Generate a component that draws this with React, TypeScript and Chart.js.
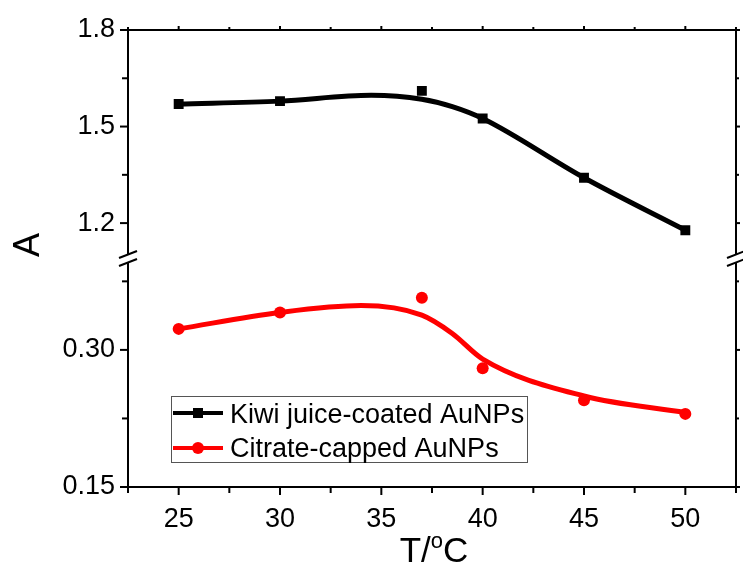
import React, { useEffect, useRef } from 'react';
import { Chart, registerables } from 'chart.js';

Chart.register(...registerables);

// ---- data ----
const temps = [25, 30, 37, 40, 45, 50];
const kiwiA = [1.570, 1.579, 1.611, 1.525, 1.341, 1.178];
const citrateA = [0.323, 0.341, 0.357, 0.280, 0.245, 0.230];

// smooth fitted curves
const kiwiFitT = [25, 30, 34.5, 37, 38.5, 40, 45, 50];
const kiwiFitA = [1.570, 1.579, 1.597, 1.585, 1.562, 1.525, 1.341, 1.178];
const citrateFitT = [25, 30, 34, 37, 38.5, 40, 45, 50];
const citrateFitA = [0.323, 0.341, 0.3485, 0.338, 0.318, 0.290, 0.2496, 0.2316];

const seriesLabels = ['Kiwi juice-coated AuNPs', 'Citrate-capped AuNPs'];
const seriesColors = ['#000000', '#ff0000'];

const xTicks = [25, 30, 35, 40, 45, 50];
const xMinorTicks = [22.5, 27.5, 32.5, 37.5, 42.5, 47.5, 52.5];
const upperTicks = [1.2, 1.5, 1.8];
const upperMinorTicks = [1.35, 1.65];
const lowerTicks = [0.15, 0.3];
const lowerMinorTicks = [0.225, 0.375];

const FONT = '"Liberation Sans", Arial, sans-serif';

const decor = {
  id: 'decor',
  afterDraw(chart: any) {
    const ctx = chart.ctx as CanvasRenderingContext2D;
    const { left, right, top, bottom } = chart.chartArea;
    const xs = chart.scales.x;
    const yT = chart.scales.yTop;
    const yB = chart.scales.yBot;
    const yBreak = (yT.bottom + yB.top) / 2;
    ctx.save();
    ctx.strokeStyle = '#000';
    ctx.lineWidth = 2;
    ctx.lineCap = 'butt';
    const seg = (x1: number, y1: number, x2: number, y2: number) => {
      ctx.beginPath();
      ctx.moveTo(x1, y1);
      ctx.lineTo(x2, y2);
      ctx.stroke();
    };
    // frame
    ctx.beginPath();
    ctx.moveTo(left, top);
    ctx.lineTo(left, bottom);
    ctx.lineTo(right, bottom);
    ctx.lineTo(right, top);
    ctx.closePath();
    ctx.stroke();
    // x ticks
    xTicks.forEach((v) => {
      const p = xs.getPixelForValue(v);
      seg(p, bottom, p, bottom + 8);
      seg(p, top, p, top - 4);
    });
    xMinorTicks.forEach((v) => {
      const p = xs.getPixelForValue(v);
      seg(p, bottom, p, bottom + 6);
      seg(p, top, p, top - 3);
    });
    // y ticks
    const yMaj = [
      ...upperTicks.map((v) => yT.getPixelForValue(v)),
      ...lowerTicks.map((v) => yB.getPixelForValue(v)),
    ];
    const yMin = [
      ...upperMinorTicks.map((v) => yT.getPixelForValue(v)),
      ...lowerMinorTicks.map((v) => yB.getPixelForValue(v)),
    ];
    yMaj.forEach((p) => {
      seg(left, p, left - 8, p);
      seg(right, p, right + 4, p);
    });
    yMin.forEach((p) => {
      seg(left, p, left - 6, p);
      seg(right, p, right + 3, p);
    });
    // axis breaks
    [left, right].forEach((ax) => {
      ctx.fillStyle = '#fff';
      ctx.beginPath();
      ctx.moveTo(ax - 9, yBreak - 0.5);
      ctx.lineTo(ax + 9, yBreak - 7.5);
      ctx.lineTo(ax + 9, yBreak + 0.5);
      ctx.lineTo(ax - 9, yBreak + 7.5);
      ctx.closePath();
      ctx.fill();
      ctx.lineWidth = 2;
      seg(ax - 9, yBreak - 0.5, ax + 9, yBreak - 7.5);
      seg(ax - 9, yBreak + 7.5, ax + 9, yBreak + 0.5);
    });
    // y title
    ctx.fillStyle = '#000';
    ctx.save();
    ctx.translate(29, 245);
    ctx.rotate(-Math.PI / 2);
    ctx.font = `36px ${FONT}`;
    ctx.textAlign = 'center';
    ctx.textBaseline = 'middle';
    ctx.fillText('A', 0, 0);
    ctx.restore();
    // x title T/°C with superscript o
    ctx.textBaseline = 'alphabetic';
    ctx.textAlign = 'left';
    ctx.font = `35px ${FONT}`;
    const w1 = ctx.measureText('T/').width;
    ctx.font = `22px ${FONT}`;
    const w2 = ctx.measureText('o').width;
    ctx.font = `35px ${FONT}`;
    const w3 = ctx.measureText('C').width;
    const cx = (left + right) / 2 + 2;
    let tx = cx - (w1 + w2 + w3) / 2;
    const base = 562;
    ctx.fillText('T/', tx, base);
    tx += w1;
    ctx.font = `22px ${FONT}`;
    ctx.fillText('o', tx, base - 14);
    tx += w2;
    ctx.font = `35px ${FONT}`;
    ctx.fillText('C', tx, base);
    // legend
    const bx = 171.5, by = 396.5, bw = 356, bh = 66;
    ctx.fillStyle = '#fff';
    ctx.fillRect(bx, by, bw, bh);
    ctx.strokeStyle = '#555';
    ctx.lineWidth = 1;
    ctx.strokeRect(bx, by, bw, bh);
    const rows = [413, 448];
    const bases = [423, 457];
    seriesLabels.forEach((lab, i) => {
      const c = seriesColors[i];
      ctx.strokeStyle = c;
      ctx.fillStyle = c;
      ctx.lineWidth = 4;
      seg(173, rows[i], 223, rows[i]);
      if (i === 0) {
        ctx.fillRect(198 - 5, rows[i] - 5, 10, 10);
      } else {
        ctx.beginPath();
        ctx.arc(198, rows[i], 6, 0, Math.PI * 2);
        ctx.fill();
      }
      ctx.fillStyle = '#000';
      ctx.font = `27px ${FONT}`;
      ctx.textBaseline = 'alphabetic';
      ctx.fillText(lab, 230, bases[i]);
    });
    ctx.restore();
  },
};

export default function App() {
  const ref = useRef<HTMLCanvasElement | null>(null);
  useEffect(() => {
    if (!ref.current) return;
    const tickFont = { family: FONT, size: 27 };
    const chart = new Chart(ref.current, {
      type: 'line',
      data: {
        datasets: [
          {
            label: seriesLabels[0],
            data: temps.map((t, i) => ({ x: t, y: kiwiA[i] })),
            yAxisID: 'yTop',
            showLine: false,
            pointStyle: 'rect',
            pointRadius: 7,
            pointBackgroundColor: seriesColors[0],
            pointBorderWidth: 0,
            borderColor: seriesColors[0],
          },
          {
            label: seriesLabels[1],
            data: temps.map((t, i) => ({ x: t, y: citrateA[i] })),
            yAxisID: 'yBot',
            showLine: false,
            pointStyle: 'circle',
            pointRadius: 6,
            pointBackgroundColor: seriesColors[1],
            pointBorderWidth: 0,
            borderColor: seriesColors[1],
          },
          {
            label: 'kiwi fit',
            data: kiwiFitT.map((t, i) => ({ x: t, y: kiwiFitA[i] })),
            yAxisID: 'yTop',
            borderColor: seriesColors[0],
            borderWidth: 5,
            pointRadius: 0,
            cubicInterpolationMode: 'monotone',
            fill: false,
          },
          {
            label: 'citrate fit',
            data: citrateFitT.map((t, i) => ({ x: t, y: citrateFitA[i] })),
            yAxisID: 'yBot',
            borderColor: seriesColors[1],
            borderWidth: 5,
            pointRadius: 0,
            cubicInterpolationMode: 'monotone',
            fill: false,
          },
        ],
      },
      options: {
        animation: false,
        responsive: false,
        maintainAspectRatio: false,
        layout: { padding: { top: 30, right: 3, left: 0, bottom: 0 } },
        plugins: { legend: { display: false }, tooltip: { enabled: false } },
        scales: {
          x: {
            type: 'linear',
            min: 22.5,
            max: 52.5,
            grid: { display: false, drawTicks: false },
            border: { display: false },
            afterBuildTicks: (s: any) => {
              s.ticks = xTicks.map((v) => ({ value: v }));
            },
            afterFit: (s: any) => {
              s.height = 81;
            },
            ticks: {
              font: tickFont,
              color: '#000',
              padding: 16,
              maxRotation: 0,
              autoSkip: false,
              callback: (v: any) => String(v),
            },
          },
          yBot: {
            type: 'linear',
            position: 'left',
            stack: 'y',
            stackWeight: 1,
            min: 0.15,
            max: 0.4,
            grid: { display: false, drawTicks: false },
            border: { display: false },
            afterBuildTicks: (s: any) => {
              s.ticks = lowerTicks.map((v) => ({ value: v }));
            },
            afterFit: (s: any) => {
              s.width = 128;
            },
            ticks: {
              font: tickFont,
              color: '#000',
              padding: 13,
              autoSkip: false,
              callback: (v: any) => Number(v).toFixed(2),
            },
          },
          yTop: {
            type: 'linear',
            position: 'left',
            stack: 'y',
            stackWeight: 1,
            min: 1.09,
            max: 1.8,
            grid: { display: false, drawTicks: false },
            border: { display: false },
            afterBuildTicks: (s: any) => {
              s.ticks = upperTicks.map((v) => ({ value: v }));
            },
            afterFit: (s: any) => {
              s.width = 128;
            },
            ticks: {
              font: tickFont,
              color: '#000',
              padding: 13,
              autoSkip: false,
              callback: (v: any) => Number(v).toFixed(1),
            },
          },
        },
      } as any,
      plugins: [decor],
    });
    return () => chart.destroy();
  }, []);
  return (
    <div style={{ position: 'absolute', left: 0, top: 0, width: 743, height: 568, background: '#fff' }}>
      <canvas ref={ref} width={743} height={568} style={{ width: 743, height: 568, display: 'block' }} />
    </div>
  );
}
